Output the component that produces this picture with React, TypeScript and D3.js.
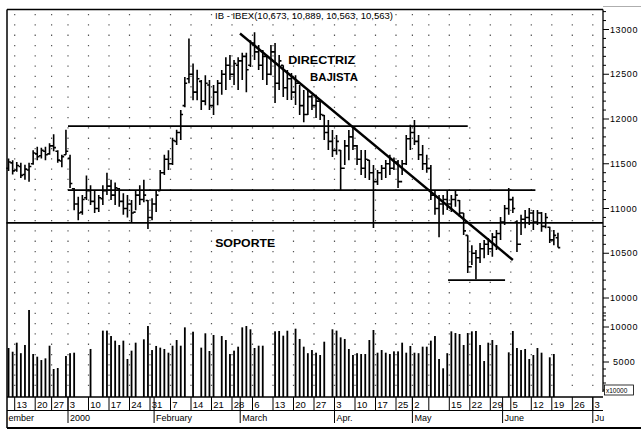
import React from 'react';
import * as d3 from 'd3';

const W = 641;
const H = 431;

const title = 'IB - IBEX(10,673, 10,889, 10,563, 10,563)';
const holidays = ['1999-12-24', '1999-12-31', '2000-04-24', '2000-05-01'];
const firstDay = '1999-12-09';
const endDay = '2000-07-05';

const highs = [
  11560, 11540, 11520, 11510, 11490, 11510, 11650, 11690, 11680, 11690, 11730, 11830, 11650, 11600, 11880,
  11600, 11230, 11130, 11150, 11370, 11260, 11200, 11150, 11260, 11400, 11320, 11290, 11230, 11170, 11150,
  11095, 11200, 11260, 11320, 11095, 11115, 11200, 11430, 11600, 11650, 11790, 11880, 12100, 12470, 12900,
  12620, 12550, 12435, 12490, 12435, 12380, 12435, 12547, 12690, 12715, 12660, 12690, 12740, 12740, 12880,
  12970, 12827, 12770, 12715, 12827, 12850, 12715, 12600, 12547, 12515, 12490, 12380, 12324, 12324, 12270,
  12270, 12212, 12045, 11990, 11877, 11820, 11654, 11765, 11877, 11910, 11710, 11654, 11654, 11542, 11485,
  11430, 11485, 11542, 11600, 11570, 11542, 11542, 11820, 11935, 11990, 11820, 11710, 11600, 11485, 11207,
  11150, 11150, 11207, 11150, 11207, 11095, 10950, 10700, 10590, 10536, 10615, 10648, 10670, 10725, 10760,
  10905, 11040, 11230, 11130, 10870, 10930, 10983, 11005, 10983, 10983, 10960, 10950, 10795, 10760, 10730,
];
const lows = [
  11420, 11380, 11410, 11340, 11320, 11300, 11490, 11540, 11560, 11540, 11600, 11640, 11510, 11460, 11600,
  11230, 10980, 10870, 10930, 11095, 11040, 10950, 10960, 11040, 11150, 11095, 11040, 11020, 10930, 10900,
  10850, 10980, 11040, 11070, 10770, 10870, 10960, 11200, 11375, 11430, 11485, 11710, 11765, 12130, 12400,
  12210, 12210, 12100, 12155, 12100, 12045, 12155, 12270, 12324, 12436, 12380, 12324, 12436, 12300, 12580,
  12660, 12547, 12436, 12380, 12490, 12180, 12324, 12245, 12212, 12212, 12156, 12045, 11965, 12045, 12100,
  12010, 11990, 11765, 11654, 11575, 11600, 11207, 11485, 11540, 11654, 11485, 11375, 11340, 11318, 10782,
  11262, 11318, 11340, 11375, 11430, 11230, 11375, 11485, 11654, 11710, 11542, 11430, 11400, 11095, 10930,
  10680, 10930, 10983, 10960, 11020, 10905, 10705, 10280, 10370, 10210, 10390, 10445, 10480, 10460, 10536,
  10648, 10815, 10930, 10950, 10515, 10705, 10780, 10815, 10760, 10815, 10740, 10780, 10615, 10590, 10563,
];
const opens = [
  11450, 11510, 11430, 11470, 11380, 11430, 11500, 11610, 11590, 11640, 11610, 11700, 11640, 11530, 11600,
  11560, 11220, 11050, 10960, 11120, 11200, 11080, 11000, 11110, 11200, 11250, 11150, 11220, 11080, 11000,
  11050, 10960, 11150, 11100, 11090, 10900, 11050, 11200, 11400, 11550, 11500, 11750, 11850, 12150, 12450,
  12500, 12300, 12420, 12200, 12380, 12150, 12300, 12400, 12500, 12600, 12500, 12600, 12650, 12700, 12600,
  12850, 12750, 12600, 12700, 12500, 12750, 12400, 12600, 12350, 12450, 12300, 12400, 12150, 12050, 12250,
  12150, 12200, 12040, 11850, 11750, 11650, 11650, 11450, 11700, 11800, 11700, 11550, 11450, 11540, 11400,
  11300, 11400, 11450, 11500, 11450, 11520, 11300, 11500, 11780, 11850, 11750, 11600, 11500, 11450, 11150,
  11000, 11050, 11100, 11050, 11100, 11090, 10950, 10700, 10350, 10500, 10450, 10550, 10600, 10550, 10680,
  10720, 10850, 11000, 11100, 10850, 10600, 10880, 10900, 10950, 10850, 10950, 10800, 10790, 10650, 10673,
];
const closes = [
  11520, 11420, 11480, 11370, 11440, 11470, 11620, 11580, 11650, 11600, 11700, 11680, 11540, 11580, 11640,
  11280, 11050, 10950, 11100, 11200, 11080, 11000, 11120, 11200, 11250, 11150, 11230, 11080, 11000, 11050,
  10950, 11150, 11100, 11150, 10900, 11050, 11150, 11400, 11550, 11500, 11760, 11850, 12050, 12400, 12500,
  12300, 12450, 12200, 12400, 12150, 12300, 12400, 12500, 12600, 12500, 12620, 12650, 12700, 12550, 12850,
  12750, 12600, 12700, 12500, 12750, 12400, 12650, 12350, 12450, 12300, 12400, 12150, 12050, 12250, 12150,
  12200, 12050, 11850, 11750, 11650, 11750, 11450, 11700, 11800, 11700, 11550, 11450, 11550, 11400, 11300,
  11400, 11450, 11500, 11450, 11520, 11300, 11500, 11780, 11850, 11750, 11600, 11500, 11450, 11150, 11000,
  11050, 11100, 11050, 11100, 11150, 10950, 10750, 10350, 10500, 10450, 10550, 10600, 10550, 10680, 10720,
  10850, 11000, 11100, 11000, 10600, 10880, 10900, 10950, 10850, 10950, 10800, 10900, 10650, 10700, 10563,
];
const volumes: (number | null)[] = [
  7000, 6470, 7760, 6260, 7430, 12430, 6140, 5760, 5280, 5520, 7330, 4000, 4140, null, 5860,
  6260, 6330, null, null, null, 6860, null, null, 9480, 9480, 8710, 8050, 7430, 8050, 5430,
  6620, 7760, null, 8240, 10140, 6710, 7290, 7050, 6860, 6330, 7330, 8140, 7330, 9950, null,
  9330, null, 7050, 9100, 6570, 8860, null, 8710, 8140, 6140, 6620, 7190, 9950, 10140, 9670,
  7000, 7330, 7330, null, null, 9380, 9430, 8760, 9470, null, 9760, 8290, 7190, 6260, 6710,
  6330, 6000, 7900, null, 9670, 9480, 8520, 8290, 6860, 6000, 6260, 6140, 6140, 8140, 9570,
  6330, 6710, 6330, 6140, 6520, 6520, 7760, 6330, 7290, 6330, 6260, 7190, 7190, 8050, 8710,
  5430, 4100, 6260, 9380, 9140, 9000, 7430, 9140, 9380, 9430, 7430, 5140, 7760, 8140, 7430,
  null, null, 6380, 9430, 7000, 6710, 6860, 5430, 6000, 7000, 6330, null, 5670, 6140, null,
];

const weekLabels = ['13', '20', '27', '3', '10', '17', '24', '31', '7', '14', '21', '28', '6', '13', '20', '27', '3', '10', '17', '25', '2', '', '15', '22', '29', '5', '12', '19', '26', '3'];
// first month label is the visible tail of "December", cut by the chart edge in the reference
const monthLabels = ['ember', '2000', 'February', 'March', 'Apr.', 'May', 'June', 'Ju'];
const priceLabelTicks = [10000, 10500, 11000, 11500, 12000, 12500, 13000];
const volumeLabelTicks = [5000, 10000];
const volumeUnit = 'x10000';

// annotation lines: [fractional trading-day index from, to, price]
const levelLines = [
  { from: 15, to: 112.5, price: 11920 },
  { from: 15, to: 129, price: 11205 },
  { from: 0, to: 145.5, price: 10840 },
  { from: 107.7, to: 121.6, price: 10200 },
];
const trendLine = [
  { idx: 56.95, price: 12955 },
  { idx: 123.5, price: 10425 },
];
const notes = [
  { text: 'DIRECTRIZ', idx: 68.7, price: 12620, len: 67 },
  { text: 'BAJISTA', idx: 74, price: 12420, len: 48 },
  { text: 'SOPORTE', idx: 50.9, price: 10570, len: 60 },
];

const FONT = '"Liberation Sans", Arial, sans-serif';

export default function App() {
  const fmt = d3.utcFormat('%Y-%m-%d');
  const parse = d3.utcParse('%Y-%m-%d');
  const days = d3
    .utcDay.range(parse(firstDay)!, parse(endDay)!)
    .filter((d) => d.getUTCDay() !== 0 && d.getUTCDay() !== 6 && !holidays.includes(fmt(d)));
  const N = days.length;

  const left = 6.5;
  const step = 4.1;
  const xIdx = d3.scaleLinear().domain([0, N]).range([left, left + N * step]);
  const cx = (i: number) => xIdx(i + 0.5);
  const yP = d3.scaleLinear().domain([10000, 13000]).range([298, 29.5]);
  const yV = d3.scaleLinear().domain([0, 10000]).range([397, 327]);

  const axisX = 603;
  const plotTop = 9.5;
  const baseY = 397;
  const rowY = 410.5;
  const bottomY = 428;

  const weekStarts: number[] = [];
  const monthStarts: number[] = [];
  days.forEach((d, i) => {
    if (i === 0) {
      monthStarts.push(0);
      return;
    }
    if (+d3.utcMonday.floor(d) !== +d3.utcMonday.floor(days[i - 1])) weekStarts.push(i);
    if (d.getUTCMonth() !== days[i - 1].getUTCMonth()) monthStarts.push(i);
  });

  const barPath = highs
    .map((h, i) => {
      const x = cx(i);
      return `M${x},${yP(h)}V${yP(lows[i])}M${x - 2.3},${yP(opens[i])}H${x}M${x},${yP(closes[i])}H${x + 2.3}`;
    })
    .join('');

  const priceMinor = d3.range(9800, 13201, 100);
  const volMinor = d3.range(1000, 12001, 1000);
  const fmtNum = (v: number) => String(v);

  return (
    <svg
      width={W}
      height={H}
      viewBox={`0 0 ${W} ${H}`}
      style={{ position: 'absolute', left: 0, top: 0, background: '#fff' }}
      fontFamily={FONT}
    >
      <rect width={W} height={H} fill="#fff" />

      {/* dotted weekly gridlines */}
      {weekStarts.map((i) => (
        <line
          key={'g' + i}
          x1={xIdx(i)}
          x2={xIdx(i)}
          y1={14}
          y2={baseY - 2}
          stroke="#555"
          strokeWidth={1.2}
          strokeDasharray="1.3 9"
        />
      ))}

      {/* frame */}
      <line x1={7} x2={axisX} y1={plotTop} y2={plotTop} stroke="#000" strokeWidth={1.6} />
      <line x1={axisX} x2={W} y1={6.5} y2={6.5} stroke="#999" strokeWidth={0.8} />
      <line x1={7} x2={7} y1={plotTop} y2={bottomY} stroke="#000" strokeWidth={1.5} />
      <line x1={axisX} x2={axisX} y1={plotTop} y2={392} stroke="#000" strokeWidth={1.3} />

      {/* right axis ticks */}
      {priceMinor.map((v) => (
        <line
          key={'pt' + v}
          x1={axisX}
          x2={axisX + (v % 500 === 0 ? 6 : 3)}
          y1={yP(v)}
          y2={yP(v)}
          stroke="#000"
          strokeWidth={1}
        />
      ))}
      {volMinor.map((v) => (
        <line
          key={'vt' + v}
          x1={axisX}
          x2={axisX + (v % 5000 === 0 ? 6 : 3)}
          y1={yV(v)}
          y2={yV(v)}
          stroke="#000"
          strokeWidth={1}
        />
      ))}
      {priceLabelTicks.map((v) => (
        <text key={'pl' + v} x={610} y={yP(v) + 3.2} fontSize={9} letterSpacing={0.6} fill="#000">
          {fmtNum(v)}
        </text>
      ))}
      {volumeLabelTicks.map((v) => (
        <text key={'vl' + v} x={v >= 10000 ? 610 : 613} y={yV(v) + 3.2} fontSize={9} letterSpacing={0.6} fill="#000">
          {fmtNum(v)}
        </text>
      ))}
      <rect x={604.5} y={385} width={29} height={10} fill="#fff" stroke="#000" strokeWidth={0.8} />
      <text x={606} y={393} fontSize={6.5} fill="#000">
        {volumeUnit}
      </text>

      {/* volume bars */}
      {volumes.map((v, i) =>
        v == null ? null : (
          <rect key={'v' + i} x={cx(i) - 0.9} y={yV(v)} width={1.8} height={baseY - yV(v)} fill="#000" />
        )
      )}

      {/* annotation lines */}
      {levelLines.map((l, k) => (
        <line
          key={'ll' + k}
          x1={xIdx(l.from)}
          x2={xIdx(l.to)}
          y1={yP(l.price)}
          y2={yP(l.price)}
          stroke="#000"
          strokeWidth={1.8}
        />
      ))}
      <line
        x1={xIdx(trendLine[0].idx)}
        y1={yP(trendLine[0].price)}
        x2={xIdx(trendLine[1].idx)}
        y2={yP(trendLine[1].price)}
        stroke="#000"
        strokeWidth={2.4}
      />

      {/* price bars */}
      <path d={barPath} fill="none" stroke="#000" strokeWidth={1.6} />

      {/* texts */}
      <text x={215} y={19} fontSize={9.5} textLength={178} lengthAdjust="spacingAndGlyphs" fill="#000">
        {title}
      </text>
      {notes.map((n) => (
        <text
          key={n.text}
          x={xIdx(n.idx)}
          y={yP(n.price)}
          fontSize={11.5}
          fontWeight="bold"
          textLength={n.len}
          lengthAdjust="spacingAndGlyphs"
          fill="#000"
        >
          {n.text}
        </text>
      ))}

      {/* date strip */}
      <line x1={7} x2={axisX} y1={baseY} y2={baseY} stroke="#000" strokeWidth={1.3} />
      <line x1={7} x2={axisX} y1={rowY} y2={rowY} stroke="#000" strokeWidth={1.2} />
      <line x1={7} x2={W} y1={bottomY} y2={bottomY} stroke="#000" strokeWidth={2} />
      {weekStarts.map((i) => (
        <line key={'ws' + i} x1={xIdx(i)} x2={xIdx(i)} y1={baseY} y2={rowY} stroke="#000" strokeWidth={1} />
      ))}
      {monthStarts
        .filter((i) => i > 0)
        .map((i) => (
          <line key={'ms' + i} x1={xIdx(i)} x2={xIdx(i)} y1={baseY} y2={423} stroke="#000" strokeWidth={1} />
        ))}
      {weekStarts.map((i, k) => (
        <text key={'wl' + i} x={xIdx(i) + 1.8} y={408} fontSize={9.5} fill="#000">
          {weekLabels[k]}
        </text>
      ))}
      {monthStarts.map((i, k) => (
        <text key={'ml' + i} x={k === 0 ? 8.5 : xIdx(i) + 2} y={421} fontSize={9} fill="#000">
          {monthLabels[k]}
        </text>
      ))}
    </svg>
  );
}
